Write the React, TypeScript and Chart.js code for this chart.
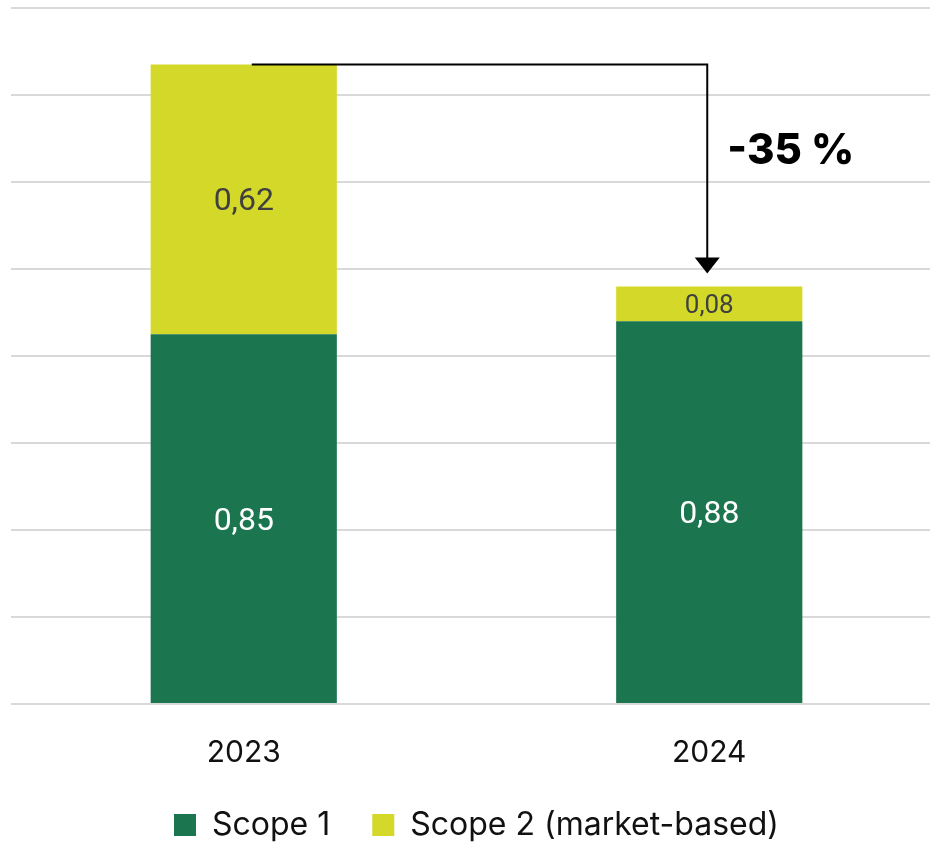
import React, { useEffect, useRef } from "react";
import { Chart, registerables } from "chart.js";

Chart.register(...registerables);

const categories = ["2023", "2024"];
const scope1 = [0.85, 0.88];
const scope2 = [0.62, 0.08];
const seriesNames = ["Scope 1", "Scope 2 (market-based)"];
const changeLabel = "-35 %";
const yTicks = [0, 0.2, 0.4, 0.6, 0.8, 1.0, 1.2, 1.4, 1.6];

const GREEN = "#1B7650";
const YELLOW = "#D4D929";
const AXIS_FONT = "Inter, 'Open Sans', sans-serif";
const VALUE_FONT = "Roboto, 'Liberation Sans', sans-serif";
const LEGEND_SIZE = 32;
const LEGEND_PAD = 42;
const CANVAS_H = 851;
const PLOT_BOTTOM = 704;

const valueLabelPlugin = {
  id: "valueLabels",
  afterDatasetsDraw(chart: any) {
    const ctx = chart.ctx;
    ctx.save();
    ctx.textAlign = "center";
    ctx.textBaseline = "middle";
    chart.data.datasets.forEach((ds: any, di: number) => {
      const meta = chart.getDatasetMeta(di);
      meta.data.forEach((bar: any, i: number) => {
        const { x, y, base } = bar.getProps(["x", "y", "base"], true);
        const h = Math.abs(base - y);
        const size = h < 60 ? 26 : 32;
        ctx.font = `400 ${size}px ${VALUE_FONT}`;
        ctx.fillStyle = di === 0 ? "#ffffff" : "#404040";
        const txt = ds.data[i].toFixed(2).replace(".", ",");
        ctx.fillText(txt, x, (y + base) / 2 + 3);
      });
    });
    ctx.restore();
  },
};

const arrowPlugin = {
  id: "changeArrow",
  afterDatasetsDraw(chart: any) {
    const ctx = chart.ctx;
    const xs = chart.scales.x;
    const ys = chart.scales.y;
    const t0 = scope1[0] + scope2[0];
    const t1 = scope1[1] + scope2[1];
    const x0 = xs.getPixelForValue(0) + 8;
    const x1 = xs.getPixelForValue(1) - 2;
    const y0 = ys.getPixelForValue(t0);
    const tipY = ys.getPixelForValue(t1) - 13;
    ctx.save();
    ctx.strokeStyle = "#000";
    ctx.lineWidth = 2;
    ctx.beginPath();
    ctx.moveTo(x0, y0);
    ctx.lineTo(x1, y0);
    ctx.lineTo(x1, tipY - 14);
    ctx.stroke();
    ctx.fillStyle = "#000";
    ctx.beginPath();
    ctx.moveTo(x1 - 12.5, tipY - 16);
    ctx.lineTo(x1 + 12.5, tipY - 16);
    ctx.lineTo(x1, tipY);
    ctx.closePath();
    ctx.fill();
    ctx.font = `800 42px ${AXIS_FONT}`;
    ctx.textAlign = "left";
    ctx.textBaseline = "middle";
    ctx.fillText(changeLabel, x1 + 20, y0 + 87);
    ctx.restore();
  },
};

export default function App() {
  const ref = useRef<HTMLCanvasElement | null>(null);
  useEffect(() => {
    if (!ref.current) return;
    const legendH = LEGEND_SIZE + LEGEND_PAD + 10;
    const chart = new Chart(ref.current, {
      type: "bar",
      data: {
        labels: categories,
        datasets: [
          { label: seriesNames[0], data: scope1, backgroundColor: GREEN, borderWidth: 0 },
          { label: seriesNames[1], data: scope2, backgroundColor: YELLOW, borderWidth: 0 },
        ],
      },
      options: {
        responsive: false,
        animation: false,
        events: [],
        layout: { padding: { left: 11, right: 0, top: 8, bottom: 0 } },
        datasets: { bar: { categoryPercentage: 1, barPercentage: 0.4 } },
        scales: {
          x: {
            stacked: true,
            grid: { display: false, drawTicks: false },
            border: { display: false },
            ticks: {
              padding: 31,
              color: "#111",
              font: { family: AXIS_FONT, size: 30, weight: 400 },
            },
            afterFit(scale: any) {
              scale.height = CANVAS_H - PLOT_BOTTOM - legendH;
            },
          },
          y: {
            stacked: true,
            min: 0,
            max: 1.6,
            afterBuildTicks(scale: any) {
              scale.ticks = yTicks.map((v) => ({ value: v }));
            },
            ticks: { display: false },
            grid: { color: "#d9d9d9", lineWidth: 2, drawTicks: false },
            border: { display: false },
          },
        },
        plugins: {
          legend: {
            position: "bottom",
            labels: {
              boxWidth: 22,
              boxHeight: 22,
              padding: LEGEND_PAD,
              color: "#111",
              font: { family: AXIS_FONT, size: LEGEND_SIZE, weight: 400 },
            },
          },
          tooltip: { enabled: false },
        },
      },
      plugins: [valueLabelPlugin, arrowPlugin],
    } as any);
    return () => chart.destroy();
  }, []);
  return (
    <div
      style={{
        position: "fixed",
        left: 0,
        top: 0,
        width: 930,
        height: 842,
        overflow: "hidden",
        background: "#fff",
      }}
    >
      <canvas ref={ref} width={942} height={CANVAS_H} style={{ display: "block", width: 942, height: CANVAS_H }} />
    </div>
  );
}
